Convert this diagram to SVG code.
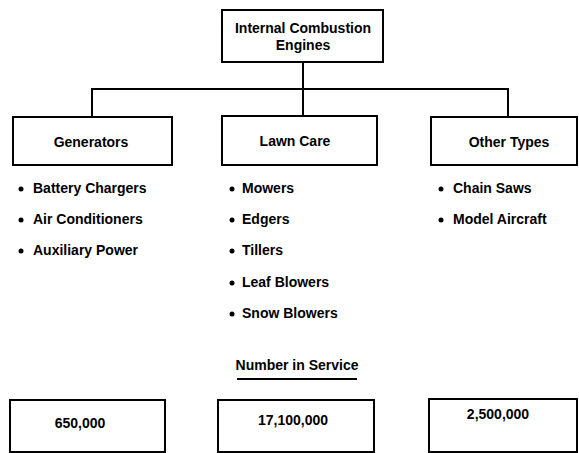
<svg xmlns="http://www.w3.org/2000/svg" width="579" height="453" viewBox="0 0 579 453">
<style>
.box{fill:#fff;stroke:#000;stroke-width:2}
.ln{stroke:#000;stroke-width:2;fill:none}
text{font-family:"Liberation Sans",Arial,sans-serif;font-weight:bold;font-size:14px;fill:#000}
.c{text-anchor:middle}
.dot{fill:#000}
</style>
<rect width="579" height="453" fill="#fff"/>
<g id="connectors">
<path class="ln" d="M303 62V89M92 117V89H508V117M303 89V116"/>
</g>
<g id="root">
<rect class="box" x="222" y="10" width="161" height="52"/>
<text class="c" x="303" y="33">Internal Combustion</text>
<text class="c" x="303" y="50">Engines</text>
</g>
<g id="generators">
<rect class="box" x="13" y="117" width="159" height="48"/>
<text class="c" x="91" y="147">Generators</text>
</g>
<g id="lawn-care">
<rect class="box" x="222" y="116" width="155" height="49"/>
<text class="c" x="295" y="146">Lawn Care</text>
</g>
<g id="other-types">
<rect class="box" x="431" y="117" width="146" height="48"/>
<text class="c" x="509" y="147">Other Types</text>
</g>
<g id="generators-list">
<circle class="dot" cx="21" cy="189" r="2.5"/><text x="33" y="193">Battery Chargers</text>
<circle class="dot" cx="21" cy="220" r="2.5"/><text x="33" y="224">Air Conditioners</text>
<circle class="dot" cx="21" cy="251" r="2.5"/><text x="33" y="255">Auxiliary Power</text>
</g>
<g id="lawn-care-list">
<circle class="dot" cx="232" cy="189" r="2.5"/><text x="242" y="193">Mowers</text>
<circle class="dot" cx="232" cy="220" r="2.5"/><text x="242" y="224">Edgers</text>
<circle class="dot" cx="232" cy="251" r="2.5"/><text x="242" y="255">Tillers</text>
<circle class="dot" cx="232" cy="283" r="2.5"/><text x="242" y="287">Leaf Blowers</text>
<circle class="dot" cx="232" cy="314" r="2.5"/><text x="242" y="318">Snow Blowers</text>
</g>
<g id="other-types-list">
<circle class="dot" cx="441" cy="189" r="2.5"/><text x="453" y="193">Chain Saws</text>
<circle class="dot" cx="441" cy="220" r="2.5"/><text x="453" y="224">Model Aircraft</text>
</g>
<g id="number-in-service">
<text class="c" x="297" y="370">Number in Service</text>
<path class="ln" d="M237 379H357"/>
</g>
<g id="count-generators">
<rect class="box" x="10" y="400" width="155" height="52"/>
<text class="c" x="80" y="428">650,000</text>
</g>
<g id="count-lawn-care">
<rect class="box" x="218" y="400" width="156" height="52"/>
<text class="c" x="293" y="425">17,100,000</text>
</g>
<g id="count-other-types">
<rect class="box" x="429" y="399" width="148" height="53"/>
<text class="c" x="498" y="419">2,500,000</text>
</g>
</svg>
